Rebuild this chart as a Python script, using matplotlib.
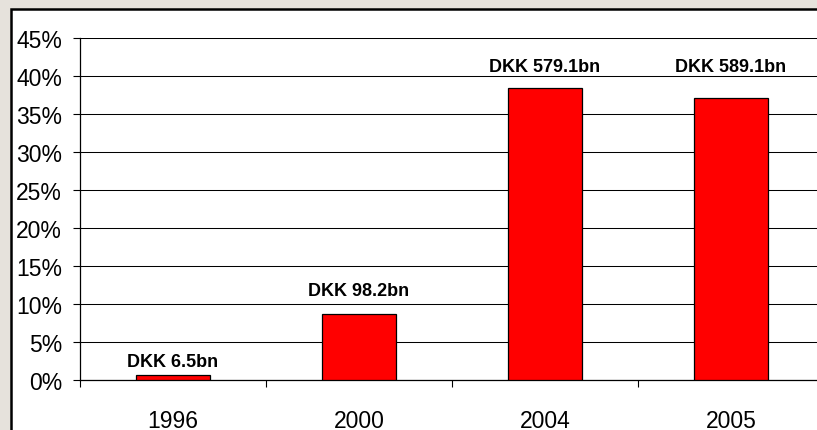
import numpy as np
import matplotlib as mpl
mpl.use('Agg')
import matplotlib.pyplot as plt
from matplotlib.patches import Rectangle

plt.rcParams['font.family'] = ['Liberation Sans', 'DejaVu Sans']

years = ['1996', '2000', '2004', '2005']
shares = [0.6, 8.7, 38.4, 37.1]          # percent
labels = ['DKK 6.5bn', 'DKK 98.2bn', 'DKK 579.1bn', 'DKK 589.1bn']
label_y = [1.8, 11.2, 40.6, 40.6]        # where the value labels sit, percent

fig = plt.figure(figsize=(8.17, 4.31), dpi=100)
fig.patch.set_facecolor('#e6e2dc')

# white chart area with black border, running off the right/bottom edge
fig.patches.append(Rectangle((10.5/817, -0.05), 1.0, (431-9.5)/431 + 0.05,
                             transform=fig.transFigure, facecolor='white',
                             edgecolor='black', linewidth=1.8, zorder=-5))

ax = fig.add_axes([80/817, 50/431, 744/817, 342/431])
ax.set_facecolor('none')

x = np.arange(len(years))
ax.bar(x, shares, width=0.4, color='#ff0000', edgecolor='black', linewidth=0.9, zorder=3)

for xi, lab, ly in zip(x, labels, label_y):
    ax.text(xi, ly, lab, ha='center', va='baseline', fontsize=13, fontweight='bold', zorder=4)

ax.set_xlim(-0.5, len(years) - 0.5)
ax.set_ylim(0, 45)
ax.set_yticks(np.arange(0, 46, 5))
ax.set_yticklabels([f'{v}%' for v in range(0, 46, 5)])
ax.yaxis.grid(True, color='black', linewidth=0.75)
ax.set_axisbelow(True)

ax.set_xticks(x)
ax.set_xticklabels(years)
ax.set_xticks(np.arange(-0.5, len(years)), minor=True)
ax.tick_params(axis='x', which='major', length=0, pad=21, labelsize=16.5)
ax.tick_params(axis='x', which='minor', length=5, width=0.8, direction='out')
ax.tick_params(axis='y', length=5, width=0.8, direction='out', pad=8, labelsize=16.5)

for s in ['top', 'right']:
    ax.spines[s].set_visible(False)
ax.spines['left'].set_linewidth(0.9)
ax.spines['bottom'].set_linewidth(0.9)

fig.savefig('out.png', dpi=100, facecolor=fig.get_facecolor())
